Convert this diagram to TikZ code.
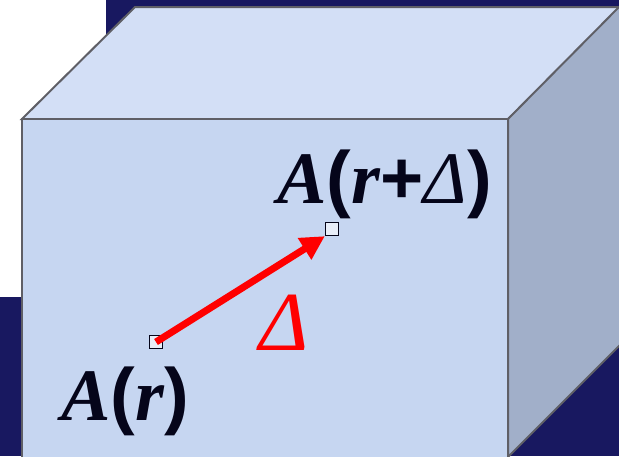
\documentclass[tikz,border=0pt]{standalone}
\usepackage{fontspec}
\setmainfont{Liberation Serif}
\newfontfamily\parfont{Liberation Sans}
\usetikzlibrary{arrows.meta}
\definecolor{navy}{HTML}{181860}
\definecolor{frontc}{HTML}{C6D6F1}
\definecolor{topc}{HTML}{D3DFF6}
\definecolor{sidec}{HTML}{A1AFC9}
\definecolor{edgec}{HTML}{5F5F66}
\definecolor{inkc}{HTML}{05051A}
\definecolor{ptc}{HTML}{E8EEF9}
\newcommand{\pp}[1]{{\parfont\bfseries #1}}
\tikzset{
  edge/.style={draw=edgec, line width=2pt, line join=miter},
  ptbox/.style={draw=inkc, fill=ptc, line width=1.3pt, minimum size=13pt, inner sep=0pt},
  lbl/.style={text=inkc, font=\fontsize{74}{80}\selectfont, inner sep=0pt},
  vec/.style={draw=red, line width=7pt, -{Triangle[length=24pt,width=24pt]}},
}
\begin{document}
\begin{tikzpicture}[x=1pt,y=-1pt]
\useasboundingbox (0,0) rectangle (619,456);
\fill[navy] (0,0) rectangle (619,456);
\fill[white] (0,0) rectangle (106,297);
% cube
\path[edge, fill=topc] (22,119) -- (135,7) -- (625,7) -- (508,119) -- cycle;
\path[edge, fill=sidec] (508,119) -- (619,7) -- (625,1) -- (625,340) -- (508,457) -- cycle;
\path[edge, fill=frontc] (22,470) -- (22,119) -- (508,119) -- (508,470);
% points
\node[ptbox] (p1) at (156,342) {};
\node[ptbox] (p2) at (332,229) {};
\draw[vec] (p1.center) -- (p2.south west);
% labels
\node[lbl, anchor=base west] (l2) at (277,203) {\textbf{\textit{A}}\pp{(}\textbf{\textit{r}}\pp{+}\textit{Δ}\pp{)}};
\node[lbl, anchor=base west] (l1) at (61,420) {\textbf{\textit{A}}\pp{(}\textbf{\textit{r}}\pp{)}};
\node[lbl, anchor=base west, text=red, font=\fontsize{84}{90}\selectfont] (d) at (259,350) {\textit{Δ}};
\end{tikzpicture}
\end{document}
